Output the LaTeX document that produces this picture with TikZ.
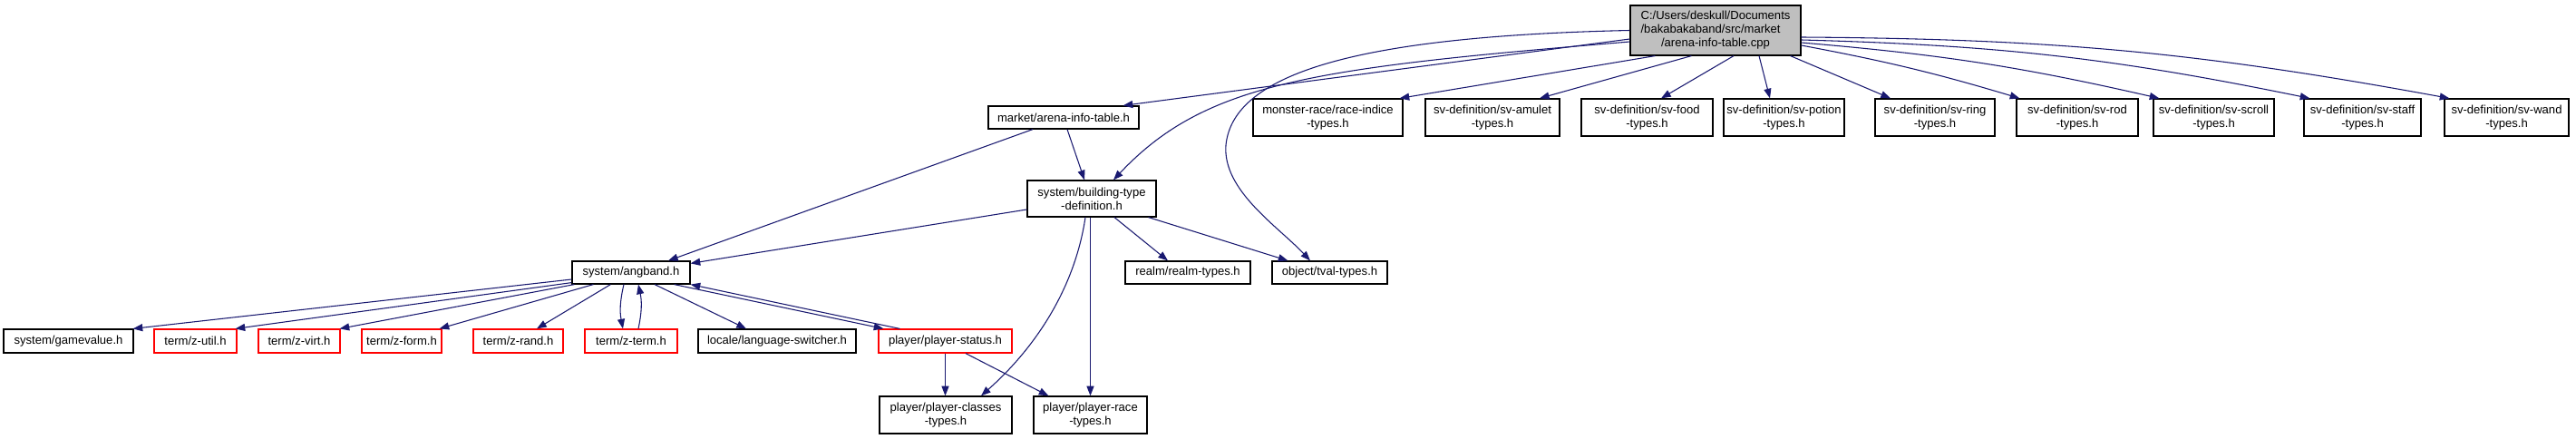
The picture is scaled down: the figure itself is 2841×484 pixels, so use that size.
\documentclass[tikz,border=0pt]{standalone}
\usepackage{fontspec}
\setmainfont{Liberation Sans}
\usetikzlibrary{arrows.meta,calc}
\definecolor{navyline}{HTML}{191970}
\definecolor{rootgray}{HTML}{BFBFBF}
\newcommand\dxfont{\fontsize{9.8}{11}\selectfont}
\tikzset{
 dbox/.style 2 args={draw=black, line width=0.9pt, fill=white, rectangle, inner sep=0pt, align=center, font=\dxfont, minimum width=#1*0.75pt, minimum height=#2*0.75pt},
 redbox/.style={draw=red},
 dep/.style={draw=navyline, line width=0.8pt, -{Triangle[length=8pt,width=6pt]}},
}
\begin{document}
\begin{tikzpicture}[x=0.75pt,y=-0.75pt]
\fill[white] (0,0) rectangle (2841,484);
\useasboundingbox (0,0) rectangle (2841,484);
% nodes
\node[dbox={188}{55}, fill=rootgray] (root) at (1892,33.5) {\begin{tabular}{@{}l@{}}C:/Users/deskull/Documents\\/bakabakaband/src/market\\\multicolumn{1}{@{}c@{}}{/arena-info-table.cpp}\end{tabular}};
\node[dbox={166}{25}] (market) at (1173,129.5) {market/arena-info-table.h};
\node[dbox={165}{41}] (monster) at (1464.5,129.5) {monster-race/race-indice\\-types.h};
\node[dbox={148}{41}] (amulet) at (1646,129.5) {sv-definition/sv-amulet\\-types.h};
\node[dbox={145}{41}] (food) at (1816.5,129.5) {sv-definition/sv-food\\-types.h};
\node[dbox={133}{41}] (potion) at (1967.5,129.5) {sv-definition/sv-potion\\-types.h};
\node[dbox={132}{41}] (ring) at (2134,129.5) {sv-definition/sv-ring\\-types.h};
\node[dbox={134}{41}] (rod) at (2291,129.5) {sv-definition/sv-rod\\-types.h};
\node[dbox={133}{41}] (scroll) at (2441.5,129.5) {sv-definition/sv-scroll\\-types.h};
\node[dbox={129}{41}] (staff) at (2605.5,129.5) {sv-definition/sv-staff\\-types.h};
\node[dbox={137}{41}] (wand) at (2764.5,129.5) {sv-definition/sv-wand\\-types.h};
\node[dbox={142}{40}] (building) at (1204,219) {system/building-type\\-definition.h};
\node[dbox={130}{25}] (angband) at (696,300.5) {system/angband.h};
\node[dbox={138}{25}] (realm) at (1310,300.5) {realm/realm-types.h};
\node[dbox={127}{25}] (tval) at (1466.5,300.5) {object/tval-types.h};
\node[dbox={143}{26}] (gamevalue) at (75.5,376) {system/gamevalue.h};
\node[dbox={91}{26}, redbox] (zutil) at (215.5,376) {term/z-util.h};
\node[dbox={90}{26}, redbox] (zvirt) at (330,376) {term/z-virt.h};
\node[dbox={88}{26}, redbox] (zform) at (443,376) {term/z-form.h};
\node[dbox={99}{26}, redbox] (zrand) at (571.5,376) {term/z-rand.h};
\node[dbox={102}{26}, redbox] (zterm) at (696,376) {term/z-term.h};
\node[dbox={174}{26}] (lang) at (857,376) {locale/language-switcher.h};
\node[dbox={147}{26}, redbox] (status) at (1042.5,376) {player/player-status.h};
\node[dbox={146}{41}] (classes) at (1043,457.5) {player/player-classes\\-types.h};
\node[dbox={125}{41}] (race) at (1202.5,457.5) {player/player-race\\-types.h};
% edges from root
\draw[dep] ($(root.west)+(0,9.5)$) -- ($(market.north east)+(-18,0)$);
\draw[dep] ($(root.west)+(0,12.5)$) .. controls (1450,75) and (1330,90) .. ($(building.north)+(24,0)$);
\draw[dep] (root.west) .. controls (1500,40) and (1360,80) .. (1352,160) .. controls (1348,210) and (1410,250) .. ($(tval.north)+(-21.5,0)$);
\draw[dep] ($(root.south west)+(28,0)$) -- ($(monster.north east)+(-4,0)$);
\draw[dep] ($(root.south west)+(68,0)$) -- ($(amulet.north)+(52,0)$);
\draw[dep] ($(root.south)+(20,0)$) -- ($(food.north)+(15.5,0)$);
\draw[dep] ($(root.south)+(48,0)$) -- ($(potion.north)+(-15.5,0)$);
\draw[dep] ($(root.south east)+(-12,0)$) -- ($(ring.north)+(-49,0)$);
\draw[dep] ($(root.east)+(0,16.5)$) to[bend left=3] ($(rod.north west)+(4,0)$);
\draw[dep] ($(root.east)+(0,13.5)$) to[bend left=4] ($(scroll.north west)+(7,0)$);
\draw[dep] ($(root.east)+(0,10.5)$) to[bend left=5] ($(staff.north west)+(7,0)$);
\draw[dep] ($(root.east)+(0,7.5)$) to[bend left=5] ($(wand.north west)+(6,0)$);
% market
\draw[dep] ($(market.south)+(4,0)$) -- ($(building.north)+(-8,0)$);
\draw[dep] ($(market.south)+(-34,0)$) -- ($(angband.north)+(41,0)$);
% building
\draw[dep] ($(building.west)+(0,12)$) -- ($(angband.north east)+(0,3)$);
\draw[dep] ($(building.south)+(25,0)$) -- ($(realm.north)+(-22,0)$);
\draw[dep] ($(building.south east)+(-9,0)$) -- ($(tval.north west)+(18,0)$);
\draw[dep] ($(building.south)+(-7,0)$) .. controls (1185,320) and (1140,385) .. ($(classes.north)+(39,0)$);
\draw[dep] (race.north |- building.south) -- (race.north);
% angband
\draw[dep] ($(angband.west)+(0,7.5)$) -- ($(gamevalue.north east)+(-1,0)$);
\draw[dep] ($(angband.south west)+(0,-2)$) -- ($(zutil.north east)+(-2,0)$);
\draw[dep] ($(angband.south west)+(3,0)$) -- ($(zvirt.north east)+(-1,0)$);
\draw[dep] ($(angband.south west)+(24,0)$) -- ($(zform.north east)+(-3,0)$);
\draw[dep] ($(angband.south west)+(43,0)$) -- ($(zrand.north)+(20.5,0)$);
\draw[dep] ($(angband.south)+(-8,0)$) to[bend right=12] ($(zterm.north)+(-9,0)$);
\draw[dep] ($(zterm.north)+(8,0)$) to[bend right=12] ($(angband.south)+(8,0)$);
\draw[dep] ($(angband.south)+(26,0)$) -- ($(lang.north)+(-34,0)$);
\draw[dep] ($(angband.south east)+(-18,0)$) -- ($(status.north west)+(6,0)$);
\draw[dep] ($(status.north west)+(24,0)$) -- (angband.south east);
% status
\draw[dep] (status.south) -- (status.south |- classes.north);
\draw[dep] ($(status.south)+(22.5,0)$) -- ($(race.north west)+(17,0)$);
\end{tikzpicture}
\end{document}
